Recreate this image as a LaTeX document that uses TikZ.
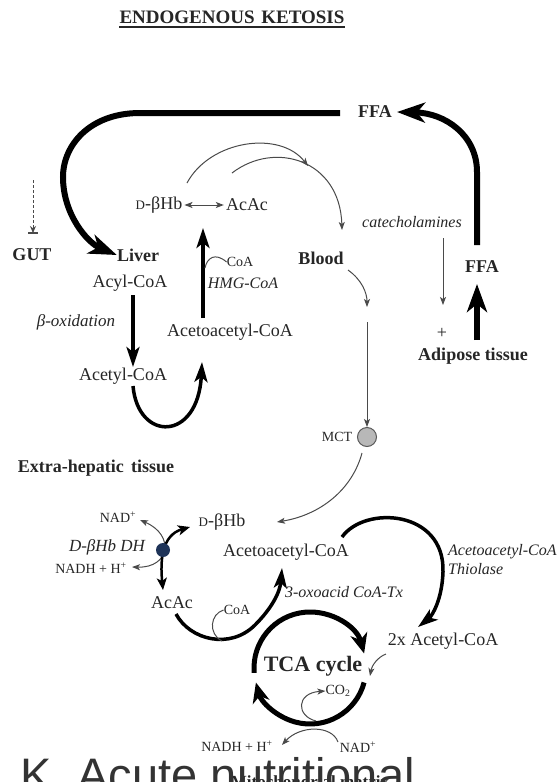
\documentclass[tikz,border=0pt]{standalone}
\usepackage{fontspec}
\setmainfont{Liberation Serif}
\newfontfamily\dgsans{Liberation Sans}
\usetikzlibrary{arrows.meta}
\definecolor{txtc}{HTML}{262626}
\definecolor{linec}{HTML}{4A4A4A}
\definecolor{dotc}{HTML}{1E3358}
\newcommand\dgMain{\fontsize{18}{21}\selectfont}
\newcommand\dgSmall{\fontsize{14}{16}\selectfont}
\newcommand\dgItal{\fontsize{16}{19}\selectfont\itshape}
\newcommand\dgD{{\fontsize{13}{13}\selectfont D}}
\begin{document}
\begin{tikzpicture}[x=1pt,y=-1pt,
 lab/.style={inner sep=0pt, text=txtc, font=\dgMain},
 bl/.style={lab, font=\dgMain\bfseries},
 sm/.style={lab, font=\dgSmall},
 itl/.style={lab, font=\dgItal},
 thinarr/.style={draw=linec, line width=1pt, -{Stealth[length=8pt,width=6pt,inset=2pt]}},
 thinboth/.style={draw=linec, line width=1pt, {Stealth[length=8pt,width=6pt,inset=2pt]}-{Stealth[length=8pt,width=6pt,inset=2pt]}},
 thinline/.style={draw=linec, line width=1pt},
 fatarr/.style={draw=black, line width=3.5pt, -{Stealth[length=20pt,width=13pt,inset=5pt]}},
 hugearr/.style={draw=black, line width=6pt, -{Stealth[length=28pt,width=20pt,inset=8pt]}},
 tcaarr/.style={draw=black, line width=5pt, -{Stealth[length=20pt,width=17pt,inset=6pt]}},
]
\useasboundingbox (0,0) rectangle (557,782);
\fill[white] (0,0) rectangle (557,782);

% ---------- title
\node[lab, font=\fontsize{19}{22}\selectfont\bfseries] (title) at (232,17) {ENDOGENOUS\hspace{0.35em}KETOSIS};
\draw[txtc, line width=1.8pt] ([yshift=-3.5pt]title.south west) -- ([yshift=-3.5pt]title.south east);

% ---------- liver / blood / adipose labels
\node[bl] (ffaT) at (375,112) {FFA};
\node[lab] (dbhbL) at (159,205) {\dgD-βHb};
\node[lab] (acacL) at (247,205) {AcAc};
\node[itl] (cat) at (412,222) {catecholamines};
\node[bl] (gut) at (32,255) {GUT};
\node[bl] (liver) at (138,255) {Liver};
\node[bl] (blood) at (321,258) {Blood};
\node[bl] (ffaR) at (482,267) {FFA};
\node[sm] (coaL) at (240,262) {CoA};
\node[itl] (hmg) at (243,283) {HMG-CoA};
\node[lab] (acyl) at (130,283) {Acyl-CoA};
\node[lab, font=\fontsize{17}{20}\selectfont\itshape] (box) at (76,322) {β-oxidation};
\node[lab] (aacL) at (230,332) {Acetoacetyl-CoA};
\node[lab] (plus) at (442,333) {+};
\node[bl] (adip) at (473,356) {Adipose tissue};
\node[lab] (acetyl) at (123,376) {Acetyl-CoA};
\node[sm] (mct) at (337,437) {MCT};
\node[circle, draw=black!65, fill=black!28, line width=1pt, minimum size=19pt, inner sep=0pt] (mctc) at (367,437) {};

% ---------- liver connectors
\coordinate (f1) at (340,113);
\draw[hugearr] (f1) -- (140,113) .. controls (90,113) and (63,145) .. (63,177) .. controls (63,215) and (88,243) .. (liver.west);
\coordinate (f2) at (477,245);
\draw[hugearr] (f2) -- (477,172) .. controls (477,135) and (445,113) .. ([xshift=5pt]ffaT.east);
\coordinate (g1) at (33,180);
\coordinate (g2) at (33,233);
\draw[linec, line width=1pt, dash pattern=on 3pt off 2pt, -{Stealth[length=7pt,width=6pt]}] (g1) -- (g2);
\draw[linec, line width=1.3pt] ([xshift=-5pt]g2) -- ([xshift=5pt]g2);
\draw[thinboth] ([xshift=2pt]dbhbL.east) -- ([xshift=-2pt]acacL.west);
\coordinate (a1s) at (187,183);
\coordinate (a1e) at (308,166);
\draw[thinarr] (a1s) .. controls (210,140) and (280,130) .. (a1e);
\coordinate (a2s) at (232,173);
\coordinate (a2e) at (342,230);
\draw[thinarr] (a2s) .. controls (275,140) and (340,160) .. (a2e);
\coordinate (b1) at (348,270);
\coordinate (b2) at (367,307);
\draw[thinarr] (b1) .. controls (362,280) and (367,293) .. (b2);
\coordinate (b3) at (367,322);
\draw[thinarr] (b3) -- (mctc.north);
\coordinate (c1) at (443,238);
\coordinate (c2) at (443,305);
\draw[thinarr] (c1) -- (c2);
\coordinate (ad1) at (477,340);
\coordinate (ad2) at (477,284);
\draw[hugearr] (ad1) -- (ad2);
\coordinate (u1) at (203,318);
\coordinate (u2) at (203,228);
\draw[fatarr] (u1) -- (u2);
\coordinate (h1) at (205,268);
\draw[thinline] (h1) .. controls (207,258) and (215,252) .. (coaL.west);
\coordinate (o1) at (133,295);
\coordinate (o2) at (133,367);
\draw[fatarr] (o1) -- (o2);
\coordinate (uc1) at (133,386);
\coordinate (uc2) at (202,362);
\draw[fatarr] (uc1) .. controls (138,442) and (198,442) .. (uc2);

% ---------- extra-hepatic labels
\node[bl] (extra) at (96,468) {Extra-hepatic\hspace{0.4em}tissue};
\node[sm] (nadA) at (118,517) {NAD\textsuperscript{+}};
\node[lab] (dbhbE) at (222,522) {\dgD-βHb};
\node[lab, font=\fontsize{17}{20}\selectfont\itshape] (dh) at (107,547) {D-βHb DH};
\node[sm] (nadhA) at (91,568) {NADH + H\textsuperscript{+}};
\node[lab] (aacE) at (286,552) {Acetoacetyl-CoA};
\node[itl, anchor=west] (thio1) at (448,552) {Acetoacetyl-CoA};
\node[itl, anchor=west] (thio2) at (448,569) {Thiolase};
\node[itl] (oxo) at (344,592) {3-oxoacid CoA-Tx};
\node[lab] (acacE) at (172,603) {AcAc};
\node[sm] (coaE) at (237,610) {CoA};
\node[lab] (two) at (443,641) {2x Acetyl-CoA};
\node[lab, font=\fontsize{22}{26}\selectfont\bfseries] (tcal) at (313,666) {TCA cycle};
\node[sm] (co2) at (338,691) {CO\textsubscript{2}};
\node[sm] (nadhB) at (237,746) {NADH + H\textsuperscript{+}};
\node[sm] (nadB) at (358,747) {NAD\textsuperscript{+}};

% ---------- extra-hepatic connectors
\coordinate (m1) at (362,453);
\coordinate (m2) at (277,522);
\draw[thinarr] (m1) .. controls (352,490) and (320,515) .. (m2);
\coordinate (n1) at (140,520);
\coordinate (n2) at (132,567);
\draw[thinboth] (n1) .. controls (175,535) and (170,568) .. (n2);
\coordinate (d1) at (163,590);
\coordinate (d2) at (190,527);
\draw[black, line width=2.5pt, {Stealth[length=12pt,width=10pt,inset=3pt]}-{Stealth[length=12pt,width=10pt,inset=3pt]}] (d1) .. controls (160,560) and (162,535) .. (d2);
\node[circle, fill=dotc, minimum size=14pt, inner sep=0pt] (dot) at (163,550) {};
\coordinate (t1) at (342,537);
\coordinate (t2) at (418,627);
\draw[fatarr] (t1) .. controls (365,505) and (445,510) .. (443,572) .. controls (442,600) and (432,616) .. (t2);
\coordinate (s1) at (176,614);
\coordinate (s2) at (282,568);
\draw[fatarr] (s1) .. controls (190,640) and (230,650) .. (255,625) .. controls (272,608) and (280,592) .. (s2);
\coordinate (ch2) at (222,641);
\draw[thinline] (coaE.west) .. controls (210,614) and (208,634) .. (ch2);
\coordinate (w1) at (386,654);
\coordinate (w2) at (370,676);
\draw[thinarr] (w1) .. controls (378,657) and (372,665) .. (w2);
\coordinate (tca) at (310,668);
\draw[tcaarr] ([shift={(-185:56)}]tca) arc[start angle=-185, end angle=-15, radius=56];
\draw[tcaarr] ([shift={(15:56)}]tca) arc[start angle=15, end angle=165, radius=56];
\coordinate (k1) at (316,721);
\draw[thinarr] (k1) .. controls (296,716) and (296,693) .. (co2.west);
\coordinate (k2) at (338,742);
\coordinate (k3) at (282,745);
\draw[thinarr] (k2) .. controls (332,725) and (300,725) .. (k3);

% ---------- bottom overlapping texts
\node[lab, font=\fontsize{17}{20}\selectfont\bfseries, anchor=base] (mito) at (310,787) {Mitochondrial matrix};
\node[inner sep=0pt, anchor=base west, text=black!80, font=\dgsans\fontsize{47}{52}\selectfont] (kac) at (20,791) {K. Acute nutritional};
\end{tikzpicture}
\end{document}
